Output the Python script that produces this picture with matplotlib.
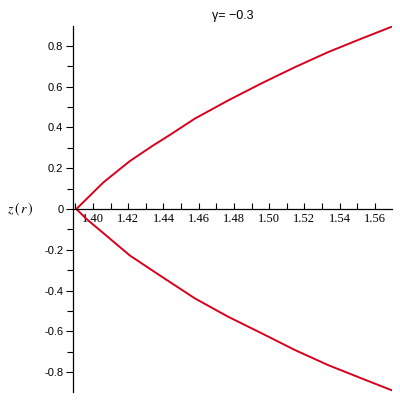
import matplotlib
matplotlib.use('Agg')
import matplotlib.pyplot as plt
from matplotlib.ticker import MultipleLocator, FormatStrFormatter

# values
r_upper = [1.3905, 1.3964, 1.4058, 1.4209, 1.4342, 1.4436, 1.4578, 1.4767,
           1.4957, 1.5146, 1.5335, 1.5524, 1.5695]
z_upper = [0.0, 0.05, 0.130, 0.235, 0.312, 0.363, 0.443, 0.532,
           0.616, 0.695, 0.769, 0.835, 0.893]
r_lower = [1.3905, 1.3964, 1.4058, 1.4209, 1.4380, 1.4578, 1.4767,
           1.4957, 1.5146, 1.5335, 1.5524, 1.5695]
z_lower = [0.0, -0.05, -0.118, -0.228, -0.326, -0.438, -0.528,
           -0.609, -0.691, -0.765, -0.830, -0.888]
x_ticks = [1.40, 1.42, 1.44, 1.46, 1.48, 1.50, 1.52, 1.54, 1.56]
y_ticks = [-0.8, -0.6, -0.4, -0.2, 0, 0.2, 0.4, 0.6, 0.8]
title = 'γ= −0.3'

plt.rcParams['mathtext.fontset'] = 'stix'

fig = plt.figure(figsize=(4, 4), dpi=100)
ax = fig.add_axes([0.1825, 0.02, 0.7975, 0.915])

red = '#d8001c'
ax.plot(r_upper, z_upper, color=red, linewidth=1.4)
ax.plot(r_lower, z_lower, color=red, linewidth=1.4)

ax.set_xlim(1.3886, 1.5698)
ax.set_ylim(-0.897, 0.897)

# Maple-style axes crossing at z=0
ax.spines['top'].set_visible(False)
ax.spines['right'].set_visible(False)
ax.spines['bottom'].set_position(('data', 0))
ax.spines['left'].set_linewidth(0.9)
ax.spines['bottom'].set_linewidth(0.9)

ax.set_xticks(x_ticks)
ax.xaxis.set_minor_locator(MultipleLocator(0.01))
ax.xaxis.set_major_formatter(FormatStrFormatter('%.2f'))
ax.set_yticks(y_ticks)
ax.set_yticklabels(['-0.8', '-0.6', '-0.4', '-0.2', '0', '0.2', '0.4', '0.6', '0.8'])
ax.yaxis.set_minor_locator(MultipleLocator(0.1))

ax.tick_params(axis='x', which='both', direction='in', length=4, width=0.8,
               labelsize=9, pad=3)
ax.tick_params(axis='y', which='major', direction='out', length=5, width=0.8,
               labelsize=8, pad=2)
ax.tick_params(axis='y', which='minor', direction='out', length=4, width=0.8)
for lab in ax.get_xticklabels():
    lab.set_family('Liberation Serif')
for lab in ax.get_yticklabels():
    lab.set_family('Liberation Sans')

ax.text(-0.165, 0.5, r'$z\,(\,r\,)$', transform=ax.transAxes, ha='center',
        va='center', fontsize=10)
ax.set_title(title, fontsize=9, family='Liberation Sans', pad=5)

fig.savefig('out.png', dpi=100)
